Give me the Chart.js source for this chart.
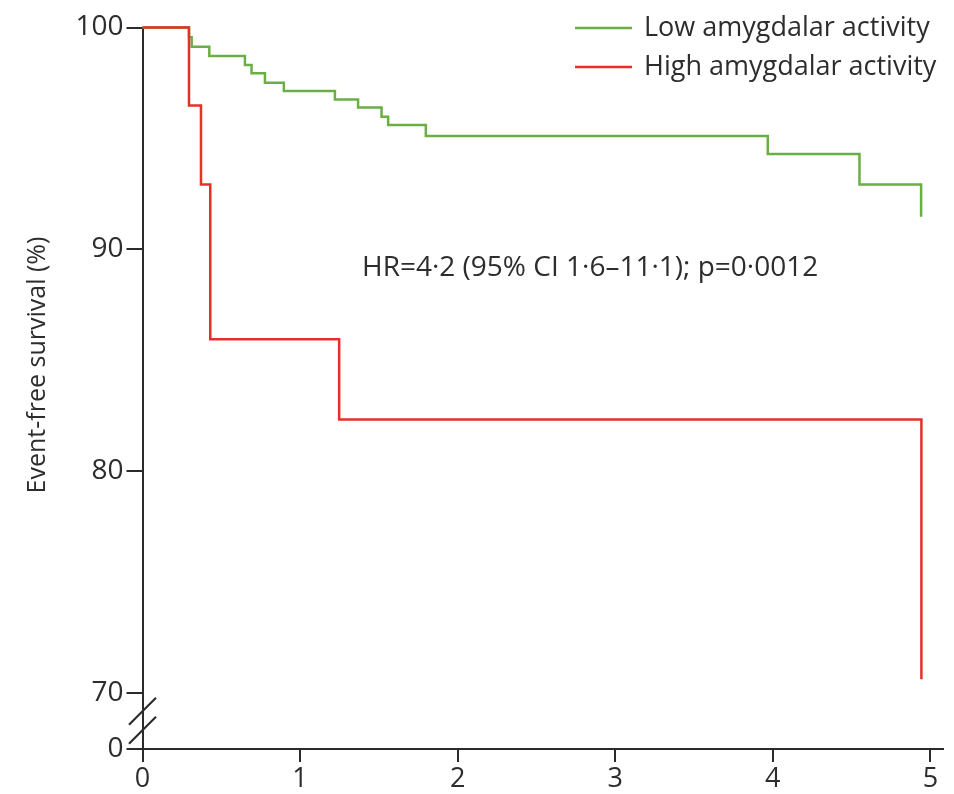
<!DOCTYPE html>
<html>
<head>
<meta charset="utf-8">
<script src="https://cdn.jsdelivr.net/npm/chart.js@4.4.1/dist/chart.umd.min.js"></script>
<style>
  html, body { margin: 0; padding: 0; background: #fff; }
  #wrap { width: 954px; height: 794px; }
</style>
</head>
<body>
<div id="wrap"><canvas id="kmChart"></canvas></div>
<script>
// survival data (years, %)
const lowTimes = [0, 0.295, 0.312, 0.424, 0.650, 0.692, 0.777, 0.897, 1.221, 1.368, 1.517, 1.559, 1.798, 3.968, 4.550, 4.941];
const lowSurvival = [100, 99.56, 99.13, 98.72, 98.31, 97.94, 97.51, 97.14, 96.76, 96.39, 95.98, 95.61, 95.11, 94.30, 92.93, 91.47];
const highTimes = [0, 0.295, 0.371, 0.430, 1.248, 4.943];
const highSurvival = [100, 96.48, 92.93, 85.95, 82.34, 70.63];

const seriesLabels = ["Low amygdalar activity", "High amygdalar activity"];
const xTicks = [0, 1, 2, 3, 4, 5];
const yTicks = [70, 80, 90, 100];
const yBreakValue = 67.49;   // bottom of the broken axis, shown as "0"
const yBreakLabel = "0";
const yTitle = "Event-free survival (%)";
const hrText = "HR=4\u00b72 (95% CI 1\u00b76\u201311\u00b71); p=0\u00b70012";

const green = "#6aaf45";
const red = "#e5302a";
const axisColor = "#2b2b2b";
const textColor = "#2d2d2d";
const fontFamily = "'Open Sans', 'DejaVu Sans', sans-serif";

function toPoints(xs, ys) {
  return xs.map(function(x, i) { return {x: x, y: ys[i]}; });
}

const extras = {
  id: "extras",
  afterDraw: function(chart) {
    const ctx = chart.ctx;
    const area = chart.chartArea;
    const ys = chart.scales.y;
    ctx.save();

    // axis break marks
    const p70 = ys.getPixelForValue(70);
    ctx.strokeStyle = axisColor;
    ctx.lineWidth = 2.2;
    [18, 37].forEach(function(off) {
      const cx = area.left, cy = p70 + off;
      ctx.beginPath();
      ctx.moveTo(cx - 13.5, cy + 13.5);
      ctx.lineTo(cx + 13.5, cy - 13.5);
      ctx.stroke();
    });

    // y title
    ctx.fillStyle = textColor;
    ctx.font = "25px " + fontFamily;
    ctx.textAlign = "center";
    ctx.textBaseline = "middle";
    ctx.translate(38, 365);
    ctx.rotate(-Math.PI / 2);
    ctx.fillText(yTitle, 0, 0);
    ctx.setTransform(1, 0, 0, 1, 0, 0);

    // hazard ratio annotation
    ctx.font = "28px " + fontFamily;
    ctx.textAlign = "left";
    ctx.fillText(hrText, 362, 268);

    // legend
    ctx.font = "27px " + fontFamily;
    const colors = [green, red];
    const rows = [28, 67];
    seriesLabels.forEach(function(lbl, i) {
      ctx.strokeStyle = colors[i];
      ctx.lineWidth = 2.5;
      ctx.beginPath();
      ctx.moveTo(575, rows[i]);
      ctx.lineTo(632, rows[i]);
      ctx.stroke();
      ctx.fillStyle = textColor;
      ctx.fillText(lbl, 644, rows[i]);
    });
    ctx.restore();
  }
};

const ctx = document.getElementById("kmChart").getContext("2d");
new Chart(ctx, {
  type: "line",
  data: {
    datasets: [
      {
        label: seriesLabels[0],
        data: toPoints(lowTimes, lowSurvival),
        borderColor: green,
        borderWidth: 2.5,
        stepped: "before",
        pointRadius: 0,
        fill: false,
        clip: false,
        order: 1
      },
      {
        label: seriesLabels[1],
        data: toPoints(highTimes, highSurvival),
        borderColor: red,
        borderWidth: 2.5,
        stepped: "before",
        pointRadius: 0,
        fill: false,
        clip: false,
        order: 0
      }
    ]
  },
  options: {
    responsive: true,
    maintainAspectRatio: false,
    animation: false,
    layout: { padding: { top: 27.5, right: 11, bottom: 0, left: 0 } },
    plugins: {
      legend: { display: false },
      tooltip: { enabled: false }
    },
    scales: {
      x: {
        type: "linear",
        min: 0,
        max: 5.08,
        afterBuildTicks: function(s) { s.ticks = xTicks.map(function(v) { return {value: v}; }); },
        afterFit: function(s) { s.height = 45; },
        grid: { drawOnChartArea: false, drawTicks: true, tickLength: 13, color: axisColor, lineWidth: 2 },
        border: { display: true, color: axisColor, width: 2 },
        ticks: { color: textColor, font: { family: fontFamily, size: 27 }, padding: 1, maxRotation: 0, autoSkip: false }
      },
      y: {
        type: "linear",
        min: yBreakValue,
        max: 100,
        afterBuildTicks: function(s) {
          s.ticks = [yBreakValue].concat(yTicks).map(function(v) { return {value: v}; });
        },
        afterFit: function(s) { s.width = 142.5; },
        grid: { drawOnChartArea: false, drawTicks: true, tickLength: 16, color: axisColor, lineWidth: 2 },
        border: { display: true, color: axisColor, width: 2 },
        ticks: {
          color: textColor,
          font: { family: fontFamily, size: 28 },
          padding: 3,
          autoSkip: false,
          callback: function(v) { return v === yBreakValue ? yBreakLabel : v; }
        }
      }
    }
  },
  plugins: [extras]
});
</script>
</body>
</html>
